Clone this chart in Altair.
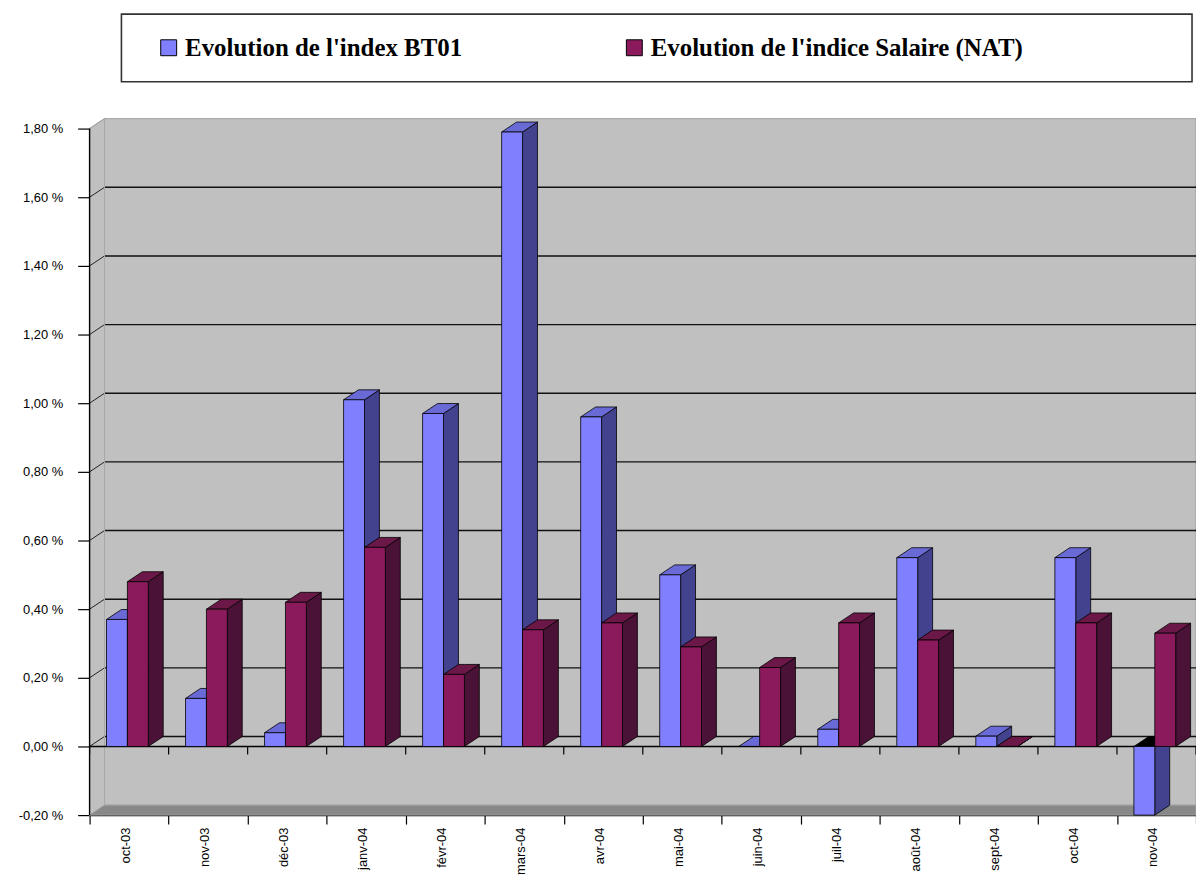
import altair as alt
import pandas as pd

# ---------------- data ----------------
months = ["oct-03", "nov-03", "déc-03", "janv-04", "févr-04", "mars-04", "avr-04",
          "mai-04", "juin-04", "juil-04", "août-04", "sept-04", "oct-04", "nov-04"]
bt01 = [0.37, 0.14, 0.04, 1.01, 0.97, 1.79, 0.96, 0.50, 0.00, 0.05, 0.55, 0.03, 0.55, -0.20]
salaire = [0.48, 0.40, 0.42, 0.58, 0.21, 0.34, 0.36, 0.29, 0.23, 0.36, 0.31, 0.00, 0.36, 0.33]
series_names = ["Evolution de l'index BT01", "Evolution de l'indice Salaire (NAT)"]
y_ticks = [-0.2, 0.0, 0.2, 0.4, 0.6, 0.8, 1.0, 1.2, 1.4, 1.6, 1.8]

# ---------------- styling / geometry ----------------
PLOT_W, PLOT_H = 1112, 700
N = len(months)
CAT_PX = PLOT_W / N
Y_MIN, Y_TOP = y_ticks[0], y_ticks[-1]
DEPTH_X_PX, DEPTH_Y_PX = 15, 10
DX = DEPTH_X_PX / CAT_PX
DY = DEPTH_Y_PX * (Y_TOP - Y_MIN) / (PLOT_H - DEPTH_Y_PX)
OFF = 17 / CAT_PX
BW = 21 / CAT_PX
TICK_DY = 8 * (Y_TOP - Y_MIN + DY) / PLOT_H

front_col = ["#8080FF", "#8B1A5C"]
side_col = ["#42428E", "#4A1236"]
top_col = ["#6A6AD6", "#6B1748"]
WALL = "#C0C0C0"
FLOOR = "#888888"

XS = alt.Scale(domain=[0, N], nice=False, zero=False)
YS = alt.Scale(domain=[Y_MIN, Y_TOP + DY], nice=False, zero=False)

# ---------------- walls / floor ----------------
walls_rows = [
    dict(id="a_side", x=0.0, y=Y_MIN, y2=Y_TOP, fill=WALL),
    dict(id="a_side", x=DX, y=Y_MIN + DY, y2=Y_TOP + DY, fill=WALL),
    dict(id="b_back", x=DX, y=Y_MIN + DY, y2=Y_TOP + DY, fill=WALL),
    dict(id="b_back", x=float(N), y=Y_MIN + DY, y2=Y_TOP + DY, fill=WALL),
    dict(id="c_floor", x=0.0, y=Y_MIN, y2=Y_MIN, fill=FLOOR),
    dict(id="c_floor", x=DX, y=Y_MIN, y2=Y_MIN + DY, fill=FLOOR),
    dict(id="c_floor", x=float(N), y=Y_MIN, y2=Y_MIN + DY, fill=FLOOR),
]
walls_df = pd.DataFrame(walls_rows)

# ---------------- grid lines / axis lines ----------------
rules_rows = []
for v in y_ticks[1:-1]:
    rules_rows.append(dict(x=DX, x2=float(N), y=v + DY, y2=v + DY, color="#111111", sw=1.4))
    rules_rows.append(dict(x=0.0, x2=DX, y=v, y2=v + DY, color="#222222", sw=1.0))
rules_rows.append(dict(x=0.0, x2=DX, y=Y_TOP, y2=Y_TOP + DY, color="#A0A0A0", sw=1.0))
rules_rows.append(dict(x=DX, x2=DX, y=Y_MIN + DY, y2=Y_TOP + DY, color="#A8A8A8", sw=1.0))
rules_rows.append(dict(x=0.0, x2=float(N), y=0.0, y2=0.0, color="#000000", sw=1.4))
for i in range(N + 1):
    rules_rows.append(dict(x=float(i), x2=float(i), y=0.0, y2=-TICK_DY, color="#000000", sw=1.2))
rules_rows.append(dict(x=0.0, x2=0.0, y=Y_MIN, y2=Y_TOP, color="#000000", sw=1.4))
rules_df = pd.DataFrame(rules_rows)

# ---------------- 3D bar faces ----------------
face_rows = []
front_rows = []
for i in range(N):
    for s, vals in enumerate([bt01, salaire]):
        v = vals[i]
        a = i + OFF + s * BW
        b = a + BW
        key = f"{i:02d}_{s}"
        face_rows.append(dict(id=key + "_side", x=b, y=0.0, y2=v, fill=side_col[s]))
        face_rows.append(dict(id=key + "_side", x=b + DX, y=DY, y2=v + DY, fill=side_col[s]))
        lv = max(v, 0.0)
        tc = top_col[s] if v >= 0 else "#000000"
        face_rows.append(dict(id=key + "_top", x=a, y=lv, y2=lv, fill=tc))
        face_rows.append(dict(id=key + "_top", x=a + DX, y=lv, y2=lv + DY, fill=tc))
        face_rows.append(dict(id=key + "_top", x=b, y=lv, y2=lv + DY, fill=tc))
        face_rows.append(dict(id=key + "_top", x=b + DX, y=lv + DY, y2=lv + DY, fill=tc))
        front_rows.append(dict(x=a, x2=b, y=0.0, y2=v, series=series_names[s]))
faces_df = pd.DataFrame(face_rows)
fronts_df = pd.DataFrame(front_rows)

# ---------------- axes ----------------
months_js = "[" + ",".join("'" + m + "'" for m in months) + "]"
x_axis = alt.Axis(
    values=list(range(N + 1)), title=None, grid=False,
    labelExpr=f"datum.value < {N} ? {months_js}[datum.value] : ''",
    labelAngle=-90, labelOffset=CAT_PX / 2 - 4, labelPadding=3,
    labelFont="Liberation Sans", labelFontSize=13, labelColor="black",
    labelOverlap=False, labelBound=False,
    tickSize=9, tickColor="black", tickWidth=1.2,
    domain=True, domainColor="black", domainWidth=1.4,
)
y_axis = alt.Axis(
    values=y_ticks, title=None, grid=False,
    labelExpr="replace(replace(format(datum.value, '.2f'), '.', ','), '\u2212', '-') + ' %'",
    labelFont="Liberation Sans", labelFontSize=13, labelColor="black",
    labelPadding=15, tickSize=12, tickColor="black", tickWidth=1.2,
    domain=False,
)


def X(field="x:Q"):
    return alt.X(field, scale=XS, axis=x_axis)


def Y(field="y:Q"):
    return alt.Y(field, scale=YS, axis=y_axis)


walls = alt.Chart(walls_df).mark_area(stroke="#A0A0A0", strokeWidth=1, opacity=1).encode(
    x=X(), y=Y(), y2="y2:Q", detail="id:N",
    fill=alt.Fill("fill:N", scale=None),
)

rules = alt.Chart(rules_df).mark_rule().encode(
    x=X(), x2="x2:Q", y=Y(), y2="y2:Q",
    color=alt.Color("color:N", scale=None),
    strokeWidth=alt.StrokeWidth("sw:Q", scale=None),
)

frame = alt.Chart(pd.DataFrame({"k": [0]})).mark_rect(
    fill="white", stroke="#333333", strokeWidth=1.6
).encode(
    x=alt.value(32), x2=alt.value(1108), y=alt.value(-105), y2=alt.value(-37)
)

faces = alt.Chart(faces_df).mark_area(stroke="black", strokeWidth=0.8, opacity=1).encode(
    x=X(), y=Y(), y2="y2:Q", detail="id:N",
    fill=alt.Fill("fill:N", scale=None),
)

fronts = alt.Chart(fronts_df).mark_rect(stroke="black", strokeWidth=0.8, opacity=1).encode(
    x=X(), x2="x2:Q", y=Y(), y2="y2:Q",
    color=alt.Color(
        "series:N",
        scale=alt.Scale(domain=series_names, range=front_col),
        legend=alt.Legend(
            title=None, orient="none", legendX=67, legendY=-84,
            direction="horizontal", symbolType="square", symbolSize=256,
            symbolStrokeColor="black", symbolStrokeWidth=1, symbolOpacity=1,
            labelFont="Liberation Serif", labelFontSize=25, labelFontWeight="bold",
            labelColor="black", labelOffset=4, labelLimit=800,
            columnPadding=160, padding=0,
        ),
    ),
)

chart = alt.layer(walls, rules, frame, faces, fronts).properties(
    width=PLOT_W, height=PLOT_H,
    padding={"left": 82, "top": 109, "right": 0, "bottom": 60},
    autosize=alt.AutoSizeParams(type="none"),
).configure(background="white").configure_view(stroke=None)

chart.save("out.html", embed_options={"renderer": "svg", "actions": False})
